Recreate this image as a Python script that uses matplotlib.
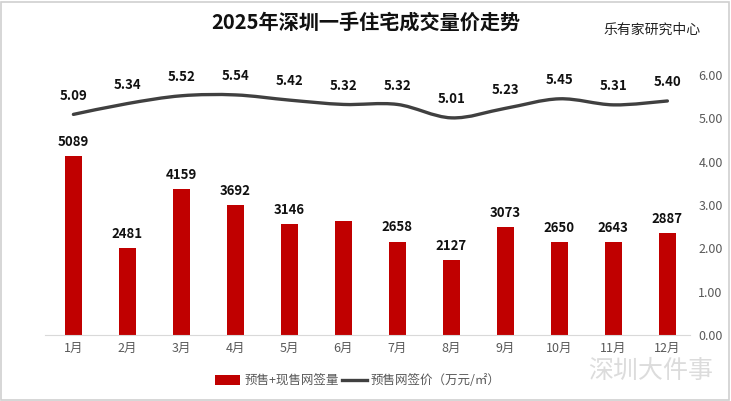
import matplotlib.pyplot as plt
import numpy as np
from matplotlib.patches import PathPatch, Rectangle
from matplotlib.path import Path
from matplotlib.lines import Line2D
from matplotlib.patches import Patch

plt.rcParams["font.family"] = ["Noto Sans CJK SC", "DejaVu Sans"]

# %% Data

months = ["1月", "2月", "3月", "4月", "5月", "6月", "7月", "8月", "9月", "10月", "11月", "12月"]
volume = [5089, 2481, 4159, 3692, 3146, 3240, 2658, 2127, 3073, 2650, 2643, 2887]
# the 6月 label is blurred out in the source
volume_labels = ["5089", "2481", "4159", "3692", "3146", "", "2658", "2127", "3073", "2650", "2643", "2887"]
price = [5.09, 5.34, 5.52, 5.54, 5.42, 5.32, 5.32, 5.01, 5.23, 5.45, 5.31, 5.40]
right_ticks = [0, 1, 2, 3, 4, 5, 6]

BAR_RED = "#c00000"
LINE_GRAY = "#404040"
TICK_GRAY = "#595959"


def smooth_path(xs, ys, tension=1 / 6):
    # Catmull-Rom segments as cubic Bezier curves
    pts = np.column_stack([xs, ys])
    verts = [pts[0]]
    codes = [Path.MOVETO]
    n = len(pts)
    for i in range(n - 1):
        p0 = pts[max(i - 1, 0)]
        p1 = pts[i]
        p2 = pts[i + 1]
        p3 = pts[min(i + 2, n - 1)]
        c1 = p1 + (p2 - p0) * tension
        c2 = p2 - (p3 - p1) * tension
        verts += [c1, c2, p2]
        codes += [Path.CURVE4] * 3
    return Path(verts, codes)


# %% Plot

fig = plt.figure(figsize=(7.31, 4.01), dpi=100)
ax = fig.add_axes([0.062, 0.165, 0.882, 0.648])
ax2 = ax.twinx()

x = np.arange(len(months))
ax.bar(x, volume, width=0.32, color=BAR_RED, zorder=2)
for xi, v, lab in zip(x, volume, volume_labels):
    ax.text(xi, v + 400, lab, ha="center", va="center",
            fontsize=9.5, fontweight="bold", color="#111111")

ax.set_ylim(0, 7400)
ax.set_xlim(-0.52, 11.42)
ax.set_yticks([])
ax.set_xticks(x, labels=months, fontsize=9, color=TICK_GRAY)
ax.tick_params(axis="x", length=0, pad=5)
for s in ["top", "right", "left"]:
    ax.spines[s].set_visible(False)
ax.spines["bottom"].set_color("#d9d9d9")

path = smooth_path(x, price)
ax2.add_patch(PathPatch(path, fill=False, edgecolor=LINE_GRAY, lw=2.4,
                        capstyle="round", zorder=3))
for xi, p in zip(x, price):
    ax2.text(xi, p + 0.43, f"{p:.2f}", ha="center", va="center",
             fontsize=9.5, fontweight="bold", color="#111111")

ax2.set_ylim(0, 6)
ax2.set_yticks(right_ticks, labels=[f"{t:.2f}" for t in right_ticks],
               fontsize=9, color=TICK_GRAY)
ax2.tick_params(axis="y", length=0, pad=6)
for s in ["top", "right", "left", "bottom"]:
    ax2.spines[s].set_visible(False)

fig.text(0.5, 0.945, "2025年深圳一手住宅成交量价走势", ha="center", va="center",
         fontsize=14.5, fontweight="bold", color="#111111")
fig.text(0.892, 0.925, "乐有家研究中心", ha="center", va="center",
         fontsize=10, color="#222222")

handles = [
    Patch(facecolor=BAR_RED, edgecolor="none"),
    Line2D([0], [0], color=LINE_GRAY, lw=2.4),
]
fig.legend(handles, ["预售+现售网签量", "预售网签价（万元/㎡）"],
           loc="center", bbox_to_anchor=(0.49, 0.05), ncol=2, frameon=False,
           fontsize=9, handlelength=2.0, handleheight=0.8, columnspacing=0.3,
           handletextpad=0.3, labelcolor=TICK_GRAY)

fig.text(0.89, 0.075, "深圳大件事", ha="center", va="center",
         fontsize=18, color="#dcdcdc")

fig.patches.append(Rectangle((0.002, 0.003), 0.995, 0.993, transform=fig.transFigure,
                             fill=False, edgecolor="#d0d0d0", lw=1.2))

fig.savefig("out.png", dpi=100)
